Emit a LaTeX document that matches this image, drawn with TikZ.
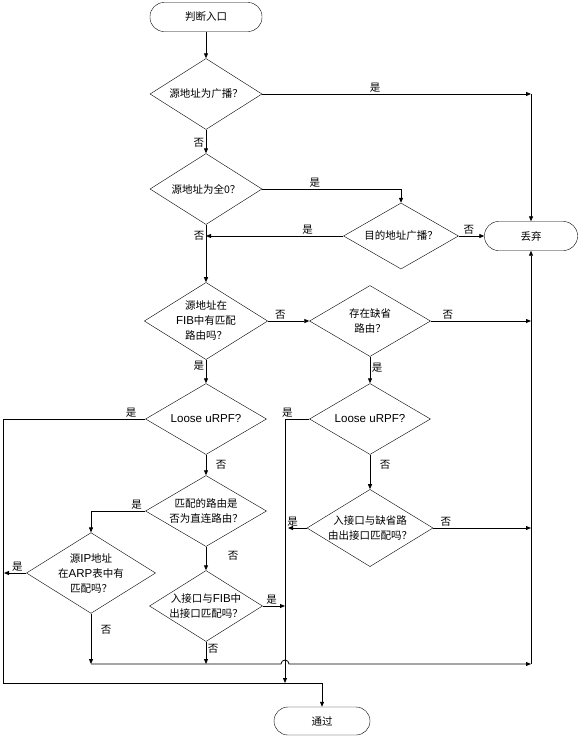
\documentclass[tikz,border=0pt]{standalone}
\usepackage{fontspec}
\setmainfont{Noto Sans CJK SC}
\newfontfamily\arial[Scale=1.1]{Liberation Sans}
\usepackage{tikz}
\usetikzlibrary{arrows.meta,positioning,shapes.geometric}

\begin{document}
\begin{tikzpicture}[x=1pt, y=-1pt,
  term/.style={draw, rounded corners=14pt, align=center, font=\fontsize{10.5}{14}\selectfont, minimum height=29pt, inner sep=0pt},
  dec/.style={draw, diamond, aspect=1.6, align=center, font=\fontsize{10.5}{15}\selectfont, inner sep=0pt, minimum width=112pt, minimum height=71pt},
  arr/.style={-{Triangle[length=5pt,width=4pt]}, line width=0.8pt},
  lab/.style={font=\fontsize{10.5}{12}\selectfont, inner sep=1.5pt}]
  \useasboundingbox (0,0) rectangle (580,737);
  % nodes
  \node[term, minimum width=112pt] (start) at (206,17) {判断入口};
  \node[dec] (bcast) at (206,94) {源地址为广播？};
  \node[dec] (zero) at (206,189) {源地址为全0？};
  \node[dec, minimum width=115pt, minimum height=66pt] (dbcast) at (401,236) {目的地址广播？};
  \node[term, minimum width=93pt] (drop) at (531,236) {丢弃};
  \node[dec] (fib) at (206,321) {源地址在\\{\arial FIB}中有匹配\\路由吗？};
  \node[dec, minimum width=121pt] (dflt) at (370,321) {存在缺省\\路由？};
  \node[dec, minimum width=121pt] (loose) at (206,419) {\arial Loose uRPF?};
  \node[dec, minimum width=121pt] (dloose) at (370,419) {\arial Loose uRPF?};
  \node[dec, minimum width=121pt] (direct) at (206,511) {匹配的路由是\\否为直连路由？};
  \node[dec, minimum width=121pt, minimum height=70pt] (arp) at (91,573) {源{\arial IP}地址\\在{\arial ARP}表中有\\匹配吗？};
  \node[dec] (ifib) at (206,606) {入接口与{\arial FIB}中\\出接口匹配吗？};
  \node[dec, minimum width=126pt, minimum height=69pt] (idflt) at (370,528) {入接口与缺省路\\由出接口匹配吗？};
  \node[term, minimum width=96pt, minimum height=28pt] (pass) at (322,721) {通过};
  % junctions
  \coordinate (r1) at (531,94);
  \coordinate (r2) at (531,321);
  \coordinate (r3) at (531,528);
  \coordinate (r4) at (531,664);
  \coordinate (j1) at (206,236);
  \coordinate (j2) at (285,606);
  \coordinate (j3) at (288,528);
  \coordinate (l1) at (3,683);
  \coordinate (l2) at (285,683);
  \coordinate (l3) at (4,573);
  \coordinate (m1) at (322,683);
  \coordinate (b1) at (91,664);
  \coordinate (b2) at (206,664);
  % connectors
  \draw[arr] (start) -- (bcast);
  \draw[arr] (bcast) -- node[lab, above, pos=0.42]{是} (r1);
  \draw[arr] (r1) -- (drop);
  \draw[arr] (bcast) -- node[lab, left, pos=0.55]{否} (zero);
  \draw[arr] (zero.east) -| node[lab, above, pos=0.19]{是} (dbcast.north);
  \draw[arr] (dbcast.west) -- node[lab, above, pos=0.26]{是} (j1);
  \node[lab, left] at (j1) {否};
  \draw[arr] (dbcast.east) -- node[lab, above, pos=0.4]{否} (drop.west);
  \draw[arr] (zero) -- (fib);
  \draw[arr] (fib) -- node[lab, above, pos=0.3]{否} (dflt);
  \draw[arr] (dflt.east) -- node[lab, above, pos=0.17]{否} (r2);
  \draw[arr] (fib) -- node[lab, left, pos=0.25]{是} (loose);
  \draw[arr] (loose.west) -| node[lab, above, pos=0.05]{是} (l1) -- (m1) -- (pass);
  \draw[arr] (loose) -- node[lab, right=8pt, pos=0.5]{否} (direct);
  \draw[arr] (direct.west) -| node[lab, above, pos=0.08]{是} (arp.north);
  \draw[arr] (arp.west) -- node[lab, above, pos=0.4]{是} (l3);
  \draw[arr] (arp.south) -- node[lab, right=8pt, pos=0.32]{否} (b1);
  \draw[arr] (direct) -- node[lab, right=20pt, pos=0.4]{否} (ifib);
  \draw[arr] (ifib.east) -- node[lab, above, pos=0.4]{是} (j2);
  \draw[arr] (ifib.south) -- node[lab, right, pos=0.3]{否} (b2);
  \draw[arr] (b1) -- ++(190,0) arc[start angle=180, end angle=360, radius=4] -- (r4);
  \draw[arr] (r4) -- (drop);
  \draw[arr] (dflt) -- node[lab, right, pos=0.4]{是} (dloose);
  \draw[arr] (dloose.west) -| node[lab, above, pos=0.45]{是} (l2);
  \draw[arr] (dloose) -- node[lab, right=8pt, pos=0.3]{否} (idflt);
  \draw[arr] (idflt.west) -- node[lab, above, pos=0.75]{是} (j3);
  \draw[arr] (idflt.east) -- node[lab, above, pos=0.13]{否} (r3);
\end{tikzpicture}
\end{document}
